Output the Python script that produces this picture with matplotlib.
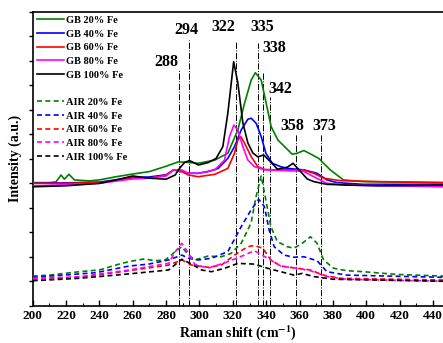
import numpy as np
import matplotlib
matplotlib.use('Agg')
import matplotlib.pyplot as plt
from matplotlib.lines import Line2D

plt.rcParams['font.family']='Liberation Serif'
plt.rcParams['font.weight']='bold'
plt.rcParams['mathtext.fontset']='stix'

# GB samples (solid lines)
gb20_x=[200,210,214,217,219,221.7,225,234,240,250,260,270,280,287.5,294,299.3,309.2,317,323,327,331,333.5,337,340,343,347,355.6,358.5,362.6,366,371.5,378.4,386.3,398,420,446]
gb20_y=[5.03,5.03,5.06,5.34,5.17,5.37,5.14,5.10,5.14,5.27,5.38,5.48,5.70,5.88,5.85,5.82,5.95,6.23,7.18,8.27,9.22,9.52,9.22,8.27,7.31,6.77,6.19,6.23,6.34,6.22,6.02,5.55,5.14,5.07,5.05,5.03]

gb40_x=[200,220,240,260,270,280,284.5,288,293.4,299.3,305.3,311.2,317,321,325,329,331,334,337,339.8,343.7,348.7,352.7,362.6,370.5,376.4,382.4,398,446]
gb40_y=[5.00,5.02,5.05,5.24,5.26,5.35,5.55,5.50,5.41,5.41,5.48,5.61,6.02,6.50,7.18,7.62,7.66,7.45,6.91,6.23,5.82,5.68,5.61,5.55,5.41,5.14,5.03,4.96,4.96]

gb60_x=[200,220,240,260,270,280,284.5,289.4,293.4,299.3,309.2,317,321,323,324.8,327,331,335,339,345,355,362,368.5,374.4,384.3,408,446]
gb60_y=[5.00,5.00,5.03,5.22,5.21,5.34,5.55,5.48,5.34,5.27,5.37,5.61,6.23,6.77,6.91,6.64,6.09,5.68,5.57,5.55,5.55,5.55,5.41,5.21,5.11,5.07,5.03]

gb80_x=[200,220,240,260,270,280,284.5,289.4,293.4,299.3,309.2,315,318,320.6,323,326,329,333,339,350,362,368.5,376.4,388,446]
gb80_y=[4.89,4.95,5.00,5.18,5.21,5.30,5.55,5.55,5.41,5.41,5.55,5.95,6.91,7.38,7.18,6.50,5.95,5.68,5.55,5.52,5.50,5.27,5.00,4.93,4.86]

gb100_x=[200,220,240,250,260,270,280,285.4,288,291,294,299.4,305.3,310,314,317,320.5,323,326,329,332,335,338.5,342.6,346.7,349,352.7,356.1,360.6,364.6,368.5,376.4,388,408,446]
gb100_y=[4.86,4.90,5.00,5.14,5.30,5.21,5.17,5.34,5.61,5.85,5.93,5.75,5.85,6.02,6.50,7.87,9.97,9.10,7.47,6.65,6.24,6.08,6.16,5.88,5.58,5.61,5.66,5.82,5.48,5.18,5.07,4.96,4.93,4.90,4.93]

# AIR samples (dashed lines)
air20_x=[200,210,228,240,251.8,257.7,266.6,273.5,279.5,285.5,289.4,293.4,297.3,305.2,313.1,319,325,330.9,333.9,337,339.8,342.8,346.7,352.7,356.6,361.6,366.5,370.5,374.4,380.4,388.3,398.2,418,446]
air20_y=[1.21,1.25,1.39,1.46,1.70,1.80,1.91,1.84,1.87,2.21,2.41,2.07,1.87,2.03,2.00,2.14,2.55,3.37,4.45,5.30,4.32,3.23,2.62,2.41,2.35,2.55,2.82,2.55,1.87,1.53,1.43,1.39,1.28,1.21]

air40_x=[200,218.2,238,257.7,269.6,281.5,289.4,293.4,299.4,307.2,317,325,330.9,335.5,338.9,341.8,344.8,350.7,356.6,362.6,370.5,376.4,388.3,446]
air40_y=[1.16,1.25,1.35,1.62,1.70,1.87,2.07,1.94,1.87,1.94,2.21,3.23,3.91,4.35,4.05,3.09,2.41,2.07,1.98,2.00,1.84,1.39,1.25,1.16]

air60_x=[200,228,257.7,281.5,289.4,295.3,305.2,313.1,321,328.9,332.9,337.9,342.8,348.7,358.6,366.5,374.4,384.3,446]
air60_y=[1.08,1.16,1.43,1.66,1.87,1.66,1.57,1.66,2.07,2.41,2.46,2.35,1.87,1.62,1.53,1.46,1.25,1.12,1.05]

air80_x=[200,228,257.7,281.5,285.5,289.4,293.4,297,305.2,317,327,332.9,340.8,348.7,358.6,366.5,376.4,388.3,446]
air80_y=[1.12,1.18,1.46,1.73,2.21,2.55,2.15,1.70,1.53,1.80,2.07,2.25,1.94,1.62,1.53,1.43,1.19,1.08,1.00]

air100_x=[200,228,257.7,281.5,289.4,295.3,301.3,307.2,315.1,323,332.9,340.8,348.7,356.6,361.6,368.5,380.4,446]
air100_y=[1.02,1.12,1.30,1.46,1.90,1.70,1.46,1.39,1.53,1.73,1.70,1.53,1.39,1.25,1.32,1.19,1.08,1.00]

fe_labels=['20% Fe','40% Fe','60% Fe','80% Fe','100% Fe']
colors=['#008000','#0000ff','#ff0000','#ff00ff','#000000']

# marked peak positions, line tops and label centres
peak_pos=[288,294,322,335,338,342,358,373]
peak_top=[9.63,10.86,10.78,10.73,9.55,8.53,7.02,7.02]
label_x=[280.3,292.2,314.2,337.9,345.0,348.6,355.7,374.7]
label_y=[9.96,11.27,11.39,11.39,10.53,8.86,7.35,7.35]

fig=plt.figure(figsize=(4.43,3.43),dpi=100)
ax=fig.add_axes([0.0738,0.1087,0.9262,0.8563])

for xp,top in zip(peak_pos,peak_top):
    ax.plot([xp,xp],[0,top],color='black',linestyle='-.',linewidth=0.7,zorder=1)
for xp,tx,ty in zip(peak_pos,label_x,label_y):
    ax.text(tx,ty,str(xp),ha='center',va='center',fontsize=11.5,fontweight='bold')

gb=[(gb20_x,gb20_y),(gb40_x,gb40_y),(gb60_x,gb60_y),(gb80_x,gb80_y),(gb100_x,gb100_y)]
air=[(air20_x,air20_y),(air40_x,air40_y),(air60_x,air60_y),(air80_x,air80_y),(air100_x,air100_y)]

handles=[]
labels=[]
for (x,y),c,lab in zip(gb,colors,fe_labels):
    h,=ax.plot(x,y,color=c,linewidth=1.2,zorder=3)
    handles.append(h)
    labels.append('GB '+lab)
handles.append(Line2D([],[],linestyle='none'))
labels.append(' ')
for (x,y),c,lab in zip(air,colors,fe_labels):
    h,=ax.plot(x,y,color=c,linewidth=1.2,linestyle=(0,(3,2)),zorder=3)
    handles.append(h)
    labels.append('AIR '+lab)

ax.legend(handles,labels,loc='upper left',bbox_to_anchor=(0.005,0.995),frameon=False,
          fontsize=7.5,handlelength=2.6,handletextpad=0.2,labelspacing=0.42,borderpad=0.2,borderaxespad=0)

ax.set_xlim(200,446)
ax.set_ylim(0,12)
ax.set_xticks(np.arange(200,441,20))
ax.set_xticks(np.arange(210,446,20),minor=True)
ax.set_yticks(np.arange(0,13,1))
ax.set_yticklabels([])
ax.tick_params(axis='x',which='major',direction='in',length=4,width=1,labelsize=9.5,pad=3)
ax.tick_params(axis='x',which='minor',direction='in',length=2,width=0.8)
ax.tick_params(axis='y',which='major',direction='out',length=3,width=1)
for lab in ax.get_xticklabels():
    lab.set_fontweight('bold')
for s in ['left','bottom','top']:
    ax.spines[s].set_linewidth(1.2)
ax.spines['right'].set_visible(False)

ax.set_xlabel(r'Raman shift (cm$^{\mathbf{-1}}$)',fontsize=10,fontweight='bold',labelpad=1)
ax.set_ylabel('Intensity (a.u.)',fontsize=10,fontweight='bold',labelpad=1)

plt.savefig('out.png',dpi=100)
